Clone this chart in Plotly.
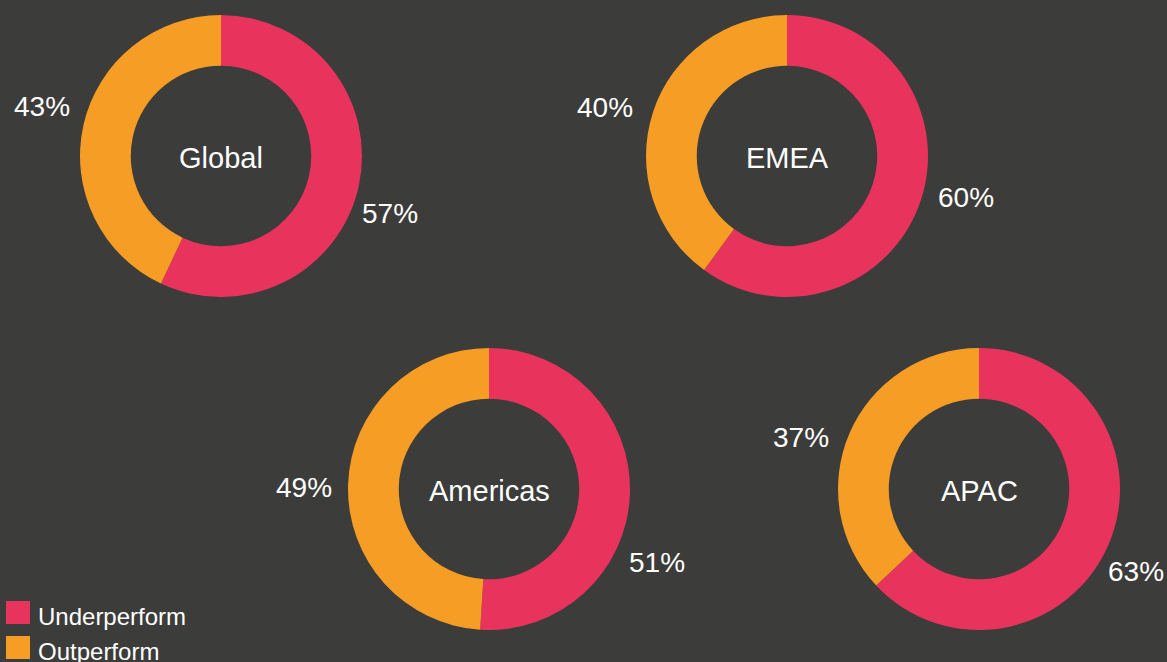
import plotly.graph_objects as go

W, H = 1167, 662

# data
regions = ["Global", "EMEA", "Americas", "APAC"]
categories = ["Underperform", "Outperform"]
underperform = [57, 60, 51, 63]
outperform = [43, 40, 49, 37]

colors = ["#E8345C", "#F59D24"]
bg = "#3C3C3A"
font_family = "Arial, Liberation Sans, Helvetica, sans-serif"

# donut centres (px) and outer radius
centres = [(221, 156), (787, 156), (489, 489), (979, 489)]
R = 141
# where the percent labels sit, relative to each donut centre (px)
under_label_off = [(169, 58), (179, 41), (168, 73), (157, 82)]
out_label_off = [(-179, -50), (-182, -49), (-185, -2), (-178, -51)]

fig = go.Figure()

for i, region in enumerate(regions):
    cx, cy = centres[i]
    fig.add_trace(go.Pie(
        labels=categories,
        values=[underperform[i], outperform[i]],
        hole=0.64,
        sort=False,
        direction="clockwise",
        rotation=0,
        marker={"colors": colors, "line": {"width": 0}},
        textinfo="none",
        domain={"x": [(cx - R) / W, (cx + R) / W],
                "y": [(H - cy - R) / H, (H - cy + R) / H]},
        showlegend=False,
        automargin=False,
        hoverinfo="label+percent",
    ))
    fig.add_annotation(
        x=cx / W, y=(H - cy - 2) / H, xref="paper", yref="paper",
        text=region, showarrow=False, xanchor="center", yanchor="middle",
        font={"color": "white", "size": 29, "family": font_family},
    )
    for val, (dx, dy) in ((underperform[i], under_label_off[i]),
                          (outperform[i], out_label_off[i])):
        fig.add_annotation(
            x=(cx + dx) / W, y=(H - cy - dy) / H, xref="paper", yref="paper",
            text=f"{val}%", showarrow=False, xanchor="center", yanchor="middle",
            font={"color": "white", "size": 28, "family": font_family},
        )

# legend drawn by hand so the swatches match the bigger text
for j, name in enumerate(categories):
    top = 601 + j * 35
    fig.add_shape(
        type="rect", xref="paper", yref="paper",
        x0=6 / W, x1=30 / W, y0=(H - top - 23) / H, y1=(H - top) / H,
        fillcolor=colors[j], line={"width": 0},
    )
    fig.add_annotation(
        x=36 / W, y=(H - top - 15) / H, xref="paper", yref="paper",
        text=name, showarrow=False, xanchor="left", yanchor="middle",
        font={"color": "white", "size": 24, "family": font_family},
    )

fig.update_layout(
    width=W,
    height=H,
    autosize=False,
    showlegend=False,
    margin=dict(l=0, r=0, t=0, b=0, pad=0, autoexpand=False),
    paper_bgcolor=bg,
    plot_bgcolor=bg,
    font={"color": "white", "family": font_family},
)

# drop the page margin/scrollbars so the figure fills the window exactly
post = (
    "document.body.style.margin='0';"
    "document.body.style.overflow='hidden';"
)
fig.write_html(
    "out.html",
    config={"responsive": False, "displayModeBar": False},
    post_script=post,
)
